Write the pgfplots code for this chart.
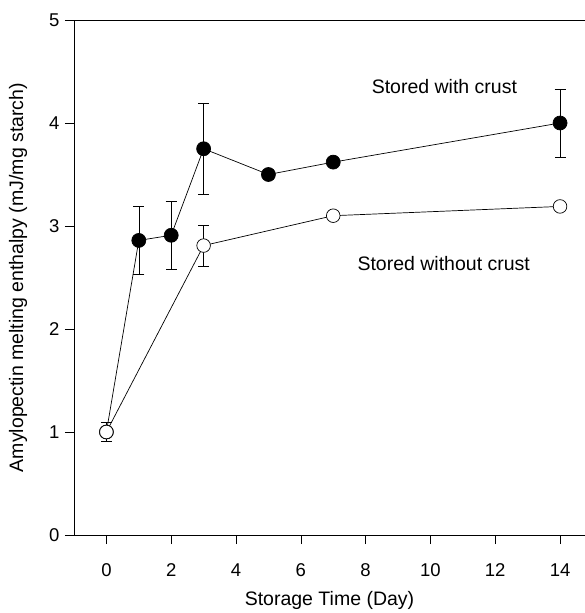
\documentclass[border=0pt]{standalone}
\usepackage{pgfplots}
\pgfplotsset{compat=1.18}
\usepackage{fontspec}
\setmainfont{Liberation Sans}
\begin{document}
\begin{tikzpicture}
\useasboundingbox (-74pt,-78pt) rectangle (511pt,535pt);
\begin{axis}[
  at={(0,0)}, anchor=south west,
  scale only axis, width=511pt, height=515pt,
  xmin=-1, xmax=14.77, ymin=0, ymax=5,
  axis x line=box, axis y line=left,
  axis line style={-, line width=0.8pt},
  xtick={0,2,...,14}, ytick={0,1,...,5},
  xtick pos=bottom, ytick pos=left,
  tick align=outside, major tick length=9pt,
  tick style={black, line width=0.6pt},
  /pgf/number format/assume math mode=true,
  ticklabel style={font=\fontsize{18.5}{21}\selectfont},
  xticklabel shift=16pt, yticklabel shift=2pt,
  xlabel={Storage Time (Day)},
  ylabel={Amylopectin melting enthalpy (mJ/mg starch)},
  every axis x label/.style={at={(axis description cs:0.5,-0.128)}, anchor=center, font=\fontsize{19.5}{22}\selectfont},
  every axis y label/.style={at={(axis description cs:-0.1096,0.5)}, anchor=center, rotate=90, font=\fontsize{19.5}{22}\selectfont},
  clip=false,
]
% Stored with crust (filled)
\addplot[black, line width=0.7pt, mark=*, mark size=7pt, mark options={fill=black},
  error bars/.cd, y dir=both, y explicit,
  error bar style={line width=0.6pt}, error mark options={rotate=90, mark size=5.5pt, line width=0.6pt}]
  coordinates {
  (0,1.0) +- (0,0)
  (1,2.86) +- (0,0.33)
  (2,2.91) +- (0,0.33)
  (3,3.75) +- (0,0.44)
  (5,3.50) +- (0,0)
  (7,3.62) +- (0,0)
  (14,4.00) +- (0,0.33)
  };
% Stored without crust (open)
\addplot[black, line width=0.7pt, mark=*, mark size=6.8pt, mark options={fill=white, draw=black, line width=0.7pt},
  error bars/.cd, y dir=both, y explicit,
  error bar style={line width=0.6pt}, error mark options={rotate=90, mark size=5.5pt, line width=0.6pt}]
  coordinates {
  (0,1.0) +- (0,0.09)
  (3,2.81) +- (0,0.20)
  (7,3.10) +- (0,0)
  (14,3.19) +- (0,0)
  };
\node[font=\fontsize{19.5}{22}\selectfont] at (axis cs:10.43,4.35) {Stored with crust};
\node[font=\fontsize{19.5}{22}\selectfont] at (axis cs:10.41,2.64) {Stored without crust};
\end{axis}
\end{tikzpicture}
\end{document}
